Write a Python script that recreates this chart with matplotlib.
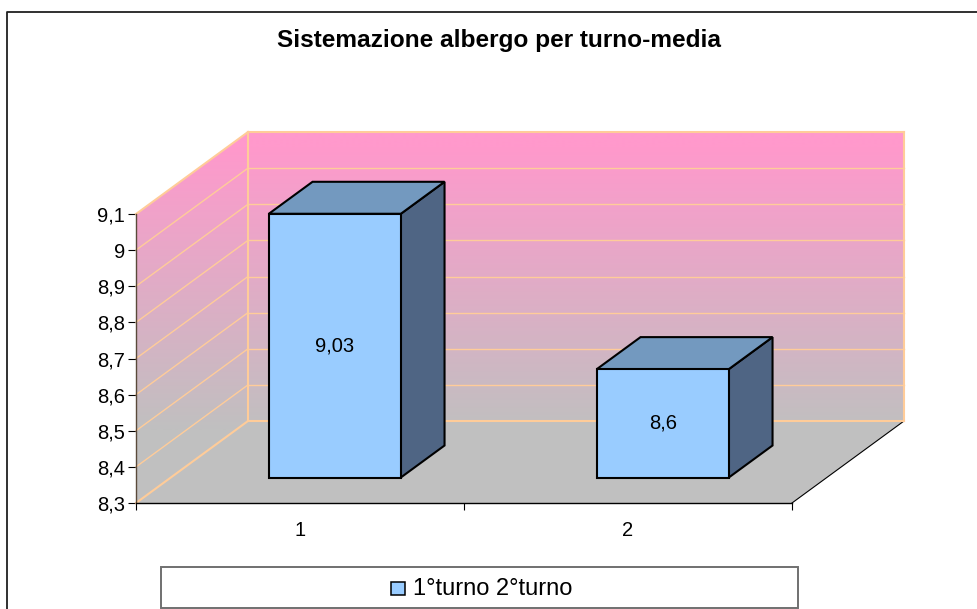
import numpy as np
import matplotlib
matplotlib.use('Agg')
import matplotlib.pyplot as plt
from matplotlib.colors import LinearSegmentedColormap
from matplotlib.lines import Line2D
from matplotlib.patches import Polygon, Rectangle

plt.rcParams['font.family'] = ['Liberation Sans', 'DejaVu Sans']

title = 'Sistemazione albergo per turno-media'
categories = ['1', '2']
values = [9.03, 8.6]
value_labels = ['9,03', '8,6']
y_ticks = [8.3, 8.4, 8.5, 8.6, 8.7, 8.8, 8.9, 9.0, 9.1]
y_labels = ['8,3', '8,4', '8,5', '8,6', '8,7', '8,8', '8,9', '9', '9,1']
legend_label = '1°turno 2°turno'

W, H = 977, 609
x0, x1, y_bot, y_top = 136, 792, 503, 214

# oblique projection of the 3d depth, in data units
dep_x = 112 / ((x1 - x0) / 2)
dep_y = 82 / ((y_bot - y_top) / 0.8)
ymin, ymax = y_ticks[0], y_ticks[-1]
xmin, xmax = 0.5, 2.5
px_y = 0.8 / (y_bot - y_top)


def proj(x, y, d):
    return x + d * dep_x, y + d * dep_y


fig = plt.figure(figsize=(W / 100, H / 100), dpi=100)
ax = fig.add_axes([x0 / W, 1 - y_bot / H, (x1 - x0) / W, (y_bot - y_top) / H])
ax.patch.set_visible(False)

cmap = LinearSegmentedColormap.from_list('wall', [(0, '#FF99CC'), (0.05, '#FF99CC'), (1, '#C0C0C0')])
grid = '#FFCC99'

# floor
fx, fy = proj(np.array([xmin, xmax, xmax, xmin]), np.full(4, ymin), np.array([0, 0, 1, 1]))
ax.add_patch(Polygon(np.c_[fx, fy], fc='#C0C0C0', ec='none', clip_on=False, zorder=1))
ax.plot(fx[1:3], fy[1:3], color='black', lw=0.8, clip_on=False, zorder=1.5)

# side wall and back wall share one gradient running down the screen
sx_top, sy_top = proj(xmin, ymax, 1)
ex, ey_top = proj(xmax, ymax, 1)
ex, ey_bot = proj(xmax, ymin, 1)
sx_bot, sy_bot = proj(xmin, ymin, 1)
wall_xy = [(xmin, ymin), (xmin, ymax), (sx_top, sy_top), (ex, ey_top), (ex, ey_bot), (sx_bot, sy_bot)]
ax.add_patch(Polygon(wall_xy, fc='#C0C0C0', ec='none', clip_on=False, zorder=1.1))
low_y = ymin + (y_bot - 430) * px_y
im = ax.imshow(np.linspace(0, 1, 256)[:, None], cmap=cmap, aspect='auto', origin='upper',
               extent=[xmin, ex, low_y, ey_top], zorder=1.2, interpolation='bilinear')
im.set_clip_path(Polygon(wall_xy, transform=ax.transData))
im.set_clip_box(fig.bbox)
ax.set_xlim(xmin, xmax)
ax.set_ylim(ymin, ymax)

# gridlines
for v in y_ticks:
    lw = 1.5 if v in (ymin, ymax) else 1.0
    px, py = proj(np.array([xmin, xmin]), np.array([v, v]), np.array([0, 1]))
    qx, qy = proj(np.array([xmin, xmax]), np.array([v, v]), np.array([1, 1]))
    ax.plot(px, py, color=grid, lw=lw, clip_on=False, zorder=2)
    ax.plot(qx, qy, color=grid, lw=lw, clip_on=False, zorder=2)
wx, wy = proj(np.array([xmin, xmin]), np.array([ymin, ymax]), 1)
ax.plot(wx, wy, color=grid, lw=1.5, clip_on=False, zorder=2)
wx, wy = proj(np.array([xmax, xmax]), np.array([ymin, ymax]), 1)
ax.plot(wx, wy, color=grid, lw=1.5, clip_on=False, zorder=2)

# bars
bar_w = 132 / ((x1 - x0) / 2)
d_front = 25.5 / 82
d_back = 57.5 / 82
for i, v in enumerate(values):
    c = i + 1
    l, r = c - bar_w / 2, c + bar_w / 2
    fl, fb = proj(l, ymin, d_front)
    fr, ft = proj(r, v, d_front)
    bl, bb = proj(l, ymin, d_back)
    br, bt = proj(r, v, d_back)
    style = dict(ec='black', lw=1.5, joinstyle='miter', clip_on=False, zorder=3)
    ax.add_patch(Polygon([(fr, fb), (br, bb), (br, bt), (fr, ft)], fc='#4F6584', **style))
    ax.add_patch(Polygon([(fl, ft), (fr, ft), (br, bt), (bl, bt)], fc='#7399BF', **style))
    ax.add_patch(Polygon([(fl, fb), (fr, fb), (fr, ft), (fl, ft)], fc='#99CCFF', **style))
    ax.text((fl + fr) / 2, (fb + ft) / 2, value_labels[i], ha='center', va='center',
            fontsize=14.5, color='black', zorder=4)

# axes
for s in ['top', 'right']:
    ax.spines[s].set_visible(False)
ax.spines['left'].set_color('#5A4A3A')
ax.spines['left'].set_linewidth(1)
ax.spines['bottom'].set_color('black')
ax.spines['bottom'].set_linewidth(1)
ax.spines['left'].set_zorder(2.5)
ax.spines['bottom'].set_zorder(2.5)
ax.set_yticks(y_ticks)
ax.set_yticklabels(y_labels)
ax.set_xticks([1.5, 2.5, 0.5])
ax.set_xticklabels(['', '', ''])
ax.set_xticks([1, 2], minor=True)
ax.set_xticklabels(categories, minor=True)
ax.tick_params(axis='x', which='minor', length=0, pad=13, labelsize=14.5)
ax.tick_params(axis='x', which='major', length=5, width=0.8)
ax.tick_params(axis='y', length=6, width=0.8, pad=2, labelsize=14.5)

fig.text(499 / W, 1 - 41 / H, title, ha='center', va='center', fontsize=17.6, fontweight='bold')

# outer frame, only top and left fall inside the picture
fig.add_artist(Line2D([7 / W, 7 / W, 1], [0, 1 - 12 / H, 1 - 12 / H], color='#202020', lw=1.3))
fig.add_artist(Rectangle((161 / W, 1 - 608 / H), 637 / W, 41 / H, fc='white', ec='#707070', lw=1.4,
                         transform=fig.transFigure))
fig.add_artist(Rectangle((391 / W, 1 - 595 / H), 14 / W, 13 / H, fc='#99CCFF', ec='black', lw=1.1,
                         transform=fig.transFigure))
fig.text(413 / W, 1 - 589 / H, legend_label, ha='left', va='center', fontsize=17)

fig.savefig('out.png', dpi=100)
